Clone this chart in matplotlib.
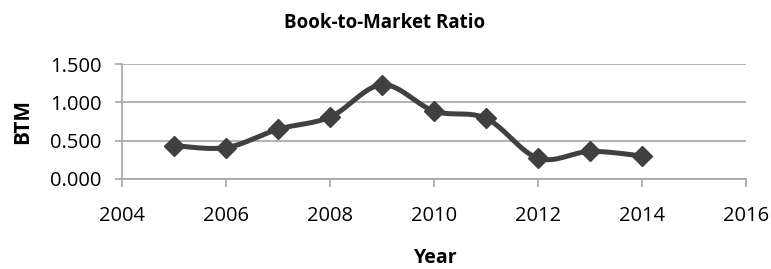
import numpy as np
import matplotlib
matplotlib.use("Agg")
import matplotlib.pyplot as plt

years = [2005, 2006, 2007, 2008, 2009, 2010, 2011, 2012, 2013, 2014]
btm = [0.435, 0.410, 0.650, 0.810, 1.230, 0.885, 0.790, 0.270, 0.360, 0.300]
x_ticks = [2004, 2006, 2008, 2010, 2012, 2014, 2016]
y_ticks = [0.0, 0.5, 1.0, 1.5]
title = "Book-to-Market Ratio"
xlabel = "Year"
ylabel = "BTM"

plt.rcParams['font.family'] = ['Open Sans', 'DejaVu Sans']

W, H = 771, 269
fig = plt.figure(figsize=(W / 100, H / 100), dpi=100)
ax = fig.add_axes([122.5 / W, (H - 179) / H, (746 - 122.5) / W, (179 - 64) / H])

# Excel-style smoothed line (Catmull-Rom Bezier through the data points)
P = np.column_stack([years, btm]).astype(float)
ext = np.vstack([P[0], P, P[-1]])
t = np.linspace(0, 1, 30)[:, None]
segs = []
for i in range(1, len(ext) - 2):
    p0, p1, p2, p3 = ext[i - 1], ext[i], ext[i + 1], ext[i + 2]
    c1 = p1 + (p2 - p0) / 6
    c2 = p2 - (p3 - p1) / 6
    seg = ((1 - t) ** 3) * p1 + 3 * ((1 - t) ** 2) * t * c1 + 3 * (1 - t) * t ** 2 * c2 + t ** 3 * p2
    segs.append(seg)
curve = np.vstack(segs)

col = '#404040'
ax.plot(curve[:, 0], curve[:, 1], color=col, lw=3.6, solid_capstyle='round', zorder=3)
ax.plot(years, btm, linestyle='none', marker='D', markersize=10.5, color=col, zorder=4)

ax.set_xlim(2004, 2016)
ax.set_ylim(0, 1.5)
ax.set_xticks(x_ticks)
ax.set_yticks(y_ticks)
ax.set_yticklabels([f"{v:.3f}" for v in y_ticks])
ax.set_xticklabels([str(v) for v in x_ticks])

gcol = '#a6a6a6'
ax.grid(axis='y', color=gcol, lw=1.2)
ax.set_axisbelow(True)
for s in ['top', 'right']:
    ax.spines[s].set_visible(False)
ax.spines['left'].set_color(gcol)
ax.spines['bottom'].set_color(gcol)
ax.spines['left'].set_linewidth(1.2)
ax.spines['bottom'].set_linewidth(1.2)
ax.tick_params(axis='y', length=5.2, width=1.2, color=gcol, pad=10, labelsize=14.5, labelcolor='black')
ax.tick_params(axis='x', length=5.4, width=1.2, color=gcol, pad=14, labelsize=14.5, labelcolor='black')

fig.text(385 / W, 1 - 23 / H, title, ha='center', va='center', fontsize=13.5, fontweight='bold')
fig.text(436 / W, 1 - 258 / H, xlabel, ha='center', va='center', fontsize=14, fontweight='bold')
fig.text(23 / W, 1 - 122 / H, ylabel, ha='center', va='center', fontsize=15, fontweight='bold', rotation=90)

fig.savefig('out.png', dpi=100)
